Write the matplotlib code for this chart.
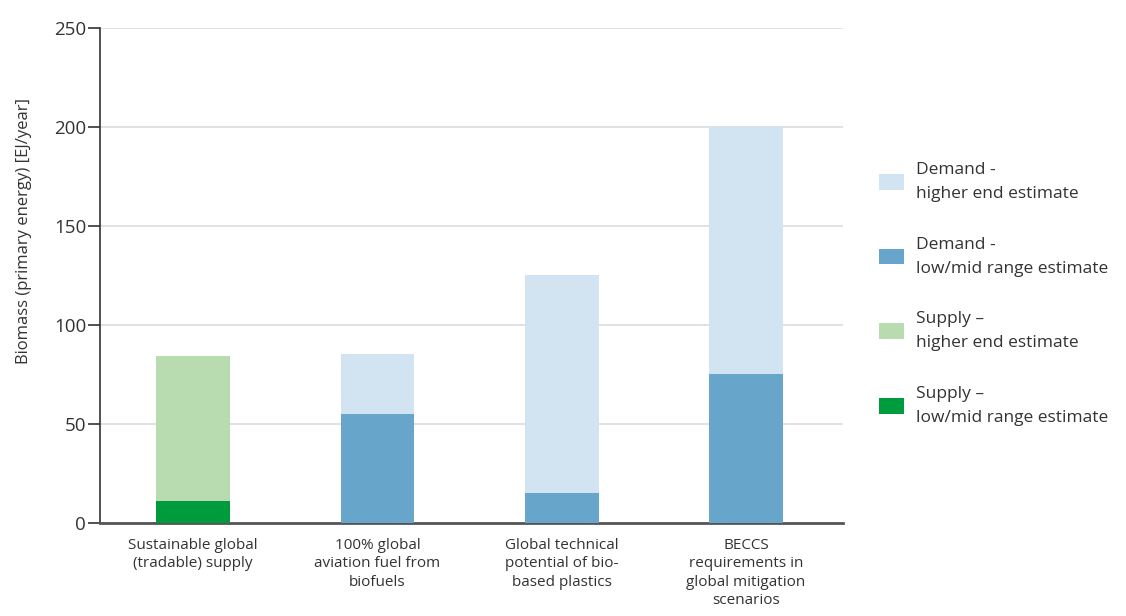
import numpy as np
import matplotlib.pyplot as plt
from matplotlib.patches import Patch

# Data (EJ/year)
categories = [
    "Sustainable global\n(tradable) supply",
    "100% global\naviation fuel from\nbiofuels",
    "Global technical\npotential of bio-\nbased plastics",
    "BECCS\nrequirements in\nglobal mitigation\nscenarios",
]
kinds = ["supply", "demand", "demand", "demand"]
low_values = [11, 55, 15, 75]
high_values = [84, 85, 125, 200]

colors = {
    "supply": ("#009b3d", "#b9dbb0"),
    "demand": ("#67a5cb", "#d2e3f1"),
}
legend_labels = [
    ("Demand -\nhigher end estimate", "#d2e3f1"),
    ("Demand -\nlow/mid range estimate", "#67a5cb"),
    ("Supply \u2013\nhigher end estimate", "#b9dbb0"),
    ("Supply \u2013\nlow/mid range estimate", "#009b3d"),
]

plt.rcParams['font.family'] = ['Open Sans', 'DejaVu Sans']
text_color = "#333333"

fig = plt.figure(figsize=(11.26, 6.16), dpi=100)
ax = fig.add_axes([0.0888, 0.1515, 0.66, 0.8035])

x = np.arange(len(categories))
low = np.array(low_values)
high = np.array(high_values)
dark = [colors[k][0] for k in kinds]
light = [colors[k][1] for k in kinds]

ax.bar(x, low, width=0.40, color=dark, zorder=3)
ax.bar(x, high - low, bottom=low, width=0.40, color=light, zorder=3)

ax.set_xlim(-0.505, 3.527)
ax.set_ylim(0, 250)
ax.set_yticks([0, 50, 100, 150, 200, 250])
ax.yaxis.grid(True, color="#dcdcdc", linewidth=1.2, zorder=0)
ax.set_axisbelow(True)

ax.set_xticks(x)
ax.set_xticklabels(categories, fontsize=11, color=text_color, linespacing=1.3)
ax.tick_params(axis="x", length=0, pad=11)
ax.tick_params(axis="y", length=9, width=1.2, color="#333333",
               labelsize=13.5, labelcolor=text_color, pad=1)

for side in ("top", "right"):
    ax.spines[side].set_visible(False)
ax.spines["left"].set_color("#333333")
ax.spines["left"].set_linewidth(1.2)
ax.spines["bottom"].set_color("#555555")
ax.spines["bottom"].set_linewidth(2)

ax.set_ylabel("Biomass (primary energy) [EJ/year]", fontsize=12,
              color=text_color)
ax.yaxis.set_label_coords(-0.091, 0.59)

handles = [Patch(facecolor=c, edgecolor="none") for _, c in legend_labels]
leg = fig.legend(handles, [l for l, _ in legend_labels], loc="upper left",
                 bbox_to_anchor=(0.767, 0.762), frameon=False, fontsize=12.5,
                 handlelength=1.4, handleheight=1.0, handletextpad=0.7,
                 labelspacing=2.0, labelcolor=text_color)
for t in leg.get_texts():
    t.set_linespacing(1.65)

fig.savefig("out.png", dpi=100)
